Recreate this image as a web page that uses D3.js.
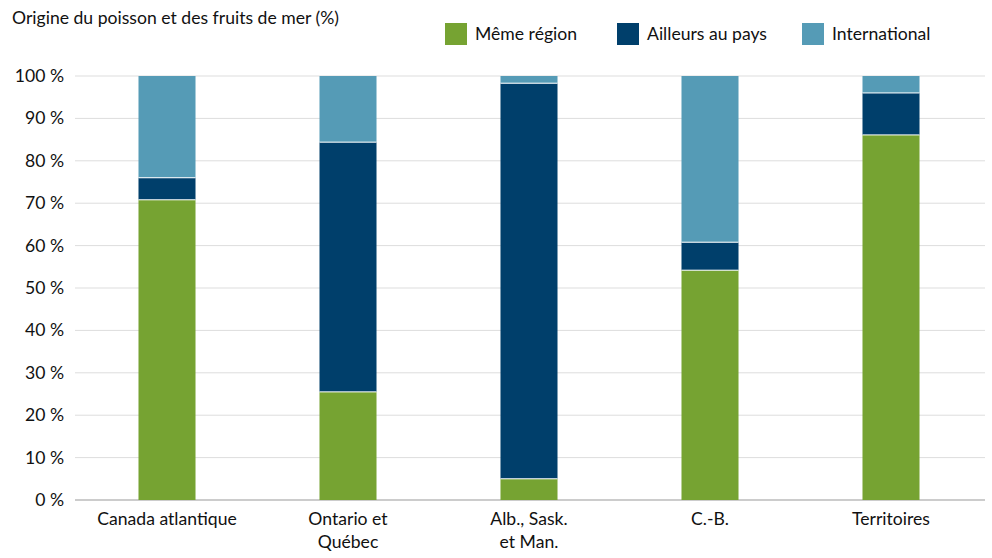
<!DOCTYPE html>
<html><head><meta charset="utf-8">
<script src="https://cdn.jsdelivr.net/npm/d3@7"></script>
<style>body{margin:0;background:#fff;font-family:Lato,"Open Sans",sans-serif;}</style>
</head><body><svg id="c" width="992" height="558"></svg>
<script>
const categories = [["Canada atlantique"],["Ontario et","Québec"],["Alb., Sask.","et Man."],["C.-B."],["Territoires"]];
const seriesNames = ["Même région","Ailleurs au pays","International"];
const meme = [70.8, 25.5, 5.0, 54.2, 86.1];
const ailleurs = [5.2, 58.9, 93.3, 6.6, 9.9];
const international = [24.0, 15.6, 1.7, 39.2, 4.0];
const ticks = [0,10,20,30,40,50,60,70,80,90,100];
const colors = ["#76a332","#003f6b","#559bb6"];
const FS = 17.6;

const svg = d3.select("#c");
const x = d3.scaleBand().domain(d3.range(categories.length)).range([76.5,981.5]).paddingInner(0.685).paddingOuter(0.3425);
const y = d3.scaleLinear().domain([0,100]).range([500,76]);

svg.append("g").selectAll("line").data(ticks).join("line")
 .attr("x1",75).attr("x2",985).attr("y1",d=>y(d)).attr("y2",d=>y(d))
 .attr("stroke",d=>d===0?"#999":"#ddd").attr("stroke-width",1);
svg.append("g").selectAll("text").data(ticks).join("text")
 .attr("x",64).attr("y",d=>y(d)+6).attr("text-anchor","end").attr("font-size",FS).attr("fill","#111")
 .text(d=>d+" %");

const data = categories.map((c,i)=>({i, v:[meme[i],ailleurs[i],international[i]]}));
const stack = d3.stack().keys([0,1,2]).value((d,k)=>d.v[k])(data);
stack.forEach((s,k)=>{
 svg.append("g").attr("fill",colors[k]).selectAll("rect").data(s).join("rect")
  .attr("x",d=>x(d.data.i)).attr("width",x.bandwidth())
  .attr("y",d=>y(d[1])).attr("height",d=>y(d[0])-y(d[1]));
});
svg.append("g").selectAll("line").data(stack.slice(0,2).flat()).join("line")
 .attr("x1",d=>x(d.data.i)).attr("x2",d=>x(d.data.i)+x.bandwidth())
 .attr("y1",d=>y(d[1])).attr("y2",d=>y(d[1])).attr("stroke","#fff").attr("stroke-width",1);

categories.forEach((c,i)=>{
 const t = svg.append("text").attr("x",x(i)+x.bandwidth()/2).attr("y",525).attr("text-anchor","middle").attr("font-size",FS).attr("fill","#111");
 c.forEach((l,j)=>t.append("tspan").attr("x",x(i)+x.bandwidth()/2).attr("dy",j?23:0).text(l));
});

svg.append("text").attr("x",12).attr("y",24).attr("font-size",FS).attr("fill","#111").text("Origine du poisson et des fruits de mer (%)");
const lx=[445,617,802];
seriesNames.forEach((n,k)=>{
 svg.append("rect").attr("x",lx[k]).attr("y",23).attr("width",22).attr("height",22).attr("fill",colors[k]);
 svg.append("text").attr("x",lx[k]+30).attr("y",40).attr("font-size",FS).attr("fill","#111").text(n);
});
</script></body></html>
